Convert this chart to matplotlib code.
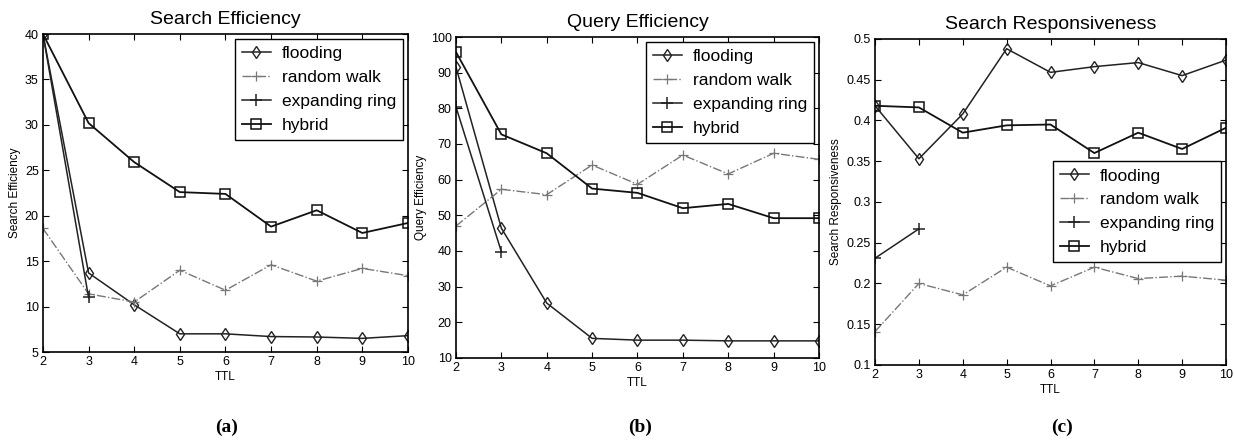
import matplotlib
matplotlib.use("Agg")
import matplotlib.pyplot as plt
from matplotlib.ticker import FuncFormatter

plt.rcParams['font.family'] = ['Liberation Sans', 'DejaVu Sans']

ttl = [2, 3, 4, 5, 6, 7, 8, 9, 10]
ttl_ring = [2, 3]

# (a) Search Efficiency
se_flooding = [40.0, 13.7, 10.2, 7.0, 7.0, 6.7, 6.65, 6.5, 6.8]
se_random = [18.6, 11.4, 10.5, 14.0, 11.8, 14.6, 12.8, 14.2, 13.4]
se_ring = [40.0, 11.0]
se_hybrid = [40.0, 30.2, 25.9, 22.6, 22.4, 18.8, 20.6, 18.1, 19.2]

# (b) Query Efficiency
qe_flooding = [91.6, 46.4, 25.4, 15.5, 15.0, 15.0, 14.8, 14.8, 14.8]
qe_random = [47.0, 57.3, 55.8, 64.1, 58.7, 66.9, 61.6, 67.4, 65.7]
qe_ring = [80.4, 39.8]
qe_hybrid = [95.8, 72.7, 67.4, 57.5, 56.3, 52.0, 53.2, 49.2, 49.2]

# (c) Search Responsiveness
sr_flooding = [0.418, 0.353, 0.408, 0.488, 0.459, 0.466, 0.471, 0.455, 0.474]
sr_random = [0.141, 0.200, 0.186, 0.220, 0.197, 0.220, 0.206, 0.209, 0.204]
sr_ring = [0.231, 0.267]
sr_hybrid = [0.418, 0.416, 0.385, 0.394, 0.395, 0.360, 0.385, 0.365, 0.391]

labels = ['flooding', 'random walk', 'expanding ring', 'hybrid']

panels = [
    dict(rect=[0.0348, 0.200, 0.2958, 0.7227], data=(se_flooding, se_random, se_ring, se_hybrid),
         title='Search Efficiency', ylabel='Search Efficiency', ylim=(5, 40),
         yticks=[5, 10, 15, 20, 25, 30, 35, 40], loc='upper right', anchor=(1, 1),
         tag='(a)', tagx=0.184),
    dict(rect=[0.3695, 0.1864, 0.2942, 0.7295], data=(qe_flooding, qe_random, qe_ring, qe_hybrid),
         title='Query Efficiency', ylabel='Query Efficiency', ylim=(10, 100),
         yticks=list(range(10, 101, 10)), loc='upper right', anchor=(1, 1),
         tag='(b)', tagx=0.519),
    dict(rect=[0.7091, 0.1705, 0.2844, 0.741], data=(sr_flooding, sr_random, sr_ring, sr_hybrid),
         title='Search Responsiveness', ylabel='Search Responsiveness', ylim=(0.1, 0.5),
         yticks=[0.1, 0.15, 0.2, 0.25, 0.3, 0.35, 0.4, 0.45, 0.5], loc='center right', anchor=(1, 0.47),
         tag='(c)', tagx=0.861),
]

fig = plt.figure(figsize=(12.34, 4.4), dpi=100)

for p in panels:
    ax = fig.add_axes(p['rect'])
    fl, rw, er, hy = p['data']
    ax.plot(ttl, fl, color='#222222', lw=1.1, marker='d', ms=6, mfc='none', mew=1.0, label=labels[0])
    ax.plot(ttl, rw, color='#777777', lw=1.0, ls='-.', marker='+', ms=7, mew=0.9, label=labels[1])
    ax.plot(ttl_ring, er, color='#222222', lw=1.1, marker='+', ms=8, mew=1.1, label=labels[2])
    ax.plot(ttl, hy, color='#111111', lw=1.3, marker='s', ms=6.5, mfc='none', mew=1.1, label=labels[3])

    ax.set_xlim(2, 10)
    ax.set_ylim(*p['ylim'])
    ax.set_xticks(ttl)
    ax.set_yticks(p['yticks'])
    ax.yaxis.set_major_formatter(FuncFormatter(lambda v, pos: f'{v:g}'))
    ax.tick_params(direction='in', top=True, right=True, labelsize=9, length=4, pad=3)
    for s in ax.spines.values():
        s.set_linewidth(1.2)

    ax.set_title(p['title'], fontsize=14, pad=7)
    ax.set_xlabel('TTL', fontsize=8.5, labelpad=2)
    ax.set_ylabel(p['ylabel'], fontsize=8.5, labelpad=3)

    leg = ax.legend(loc=p['loc'], bbox_to_anchor=p['anchor'], fontsize=12.5, fancybox=False,
                    edgecolor='black', handlelength=1.7, handletextpad=0.6, labelspacing=0.5,
                    borderpad=0.4, borderaxespad=0.3, framealpha=1)
    leg.get_frame().set_linewidth(1.0)

    fig.text(p['tagx'], 0.008, p['tag'], ha='center', va='bottom', fontsize=14,
             fontweight='bold', family='Liberation Serif')

fig.savefig('out.png', dpi=100)
